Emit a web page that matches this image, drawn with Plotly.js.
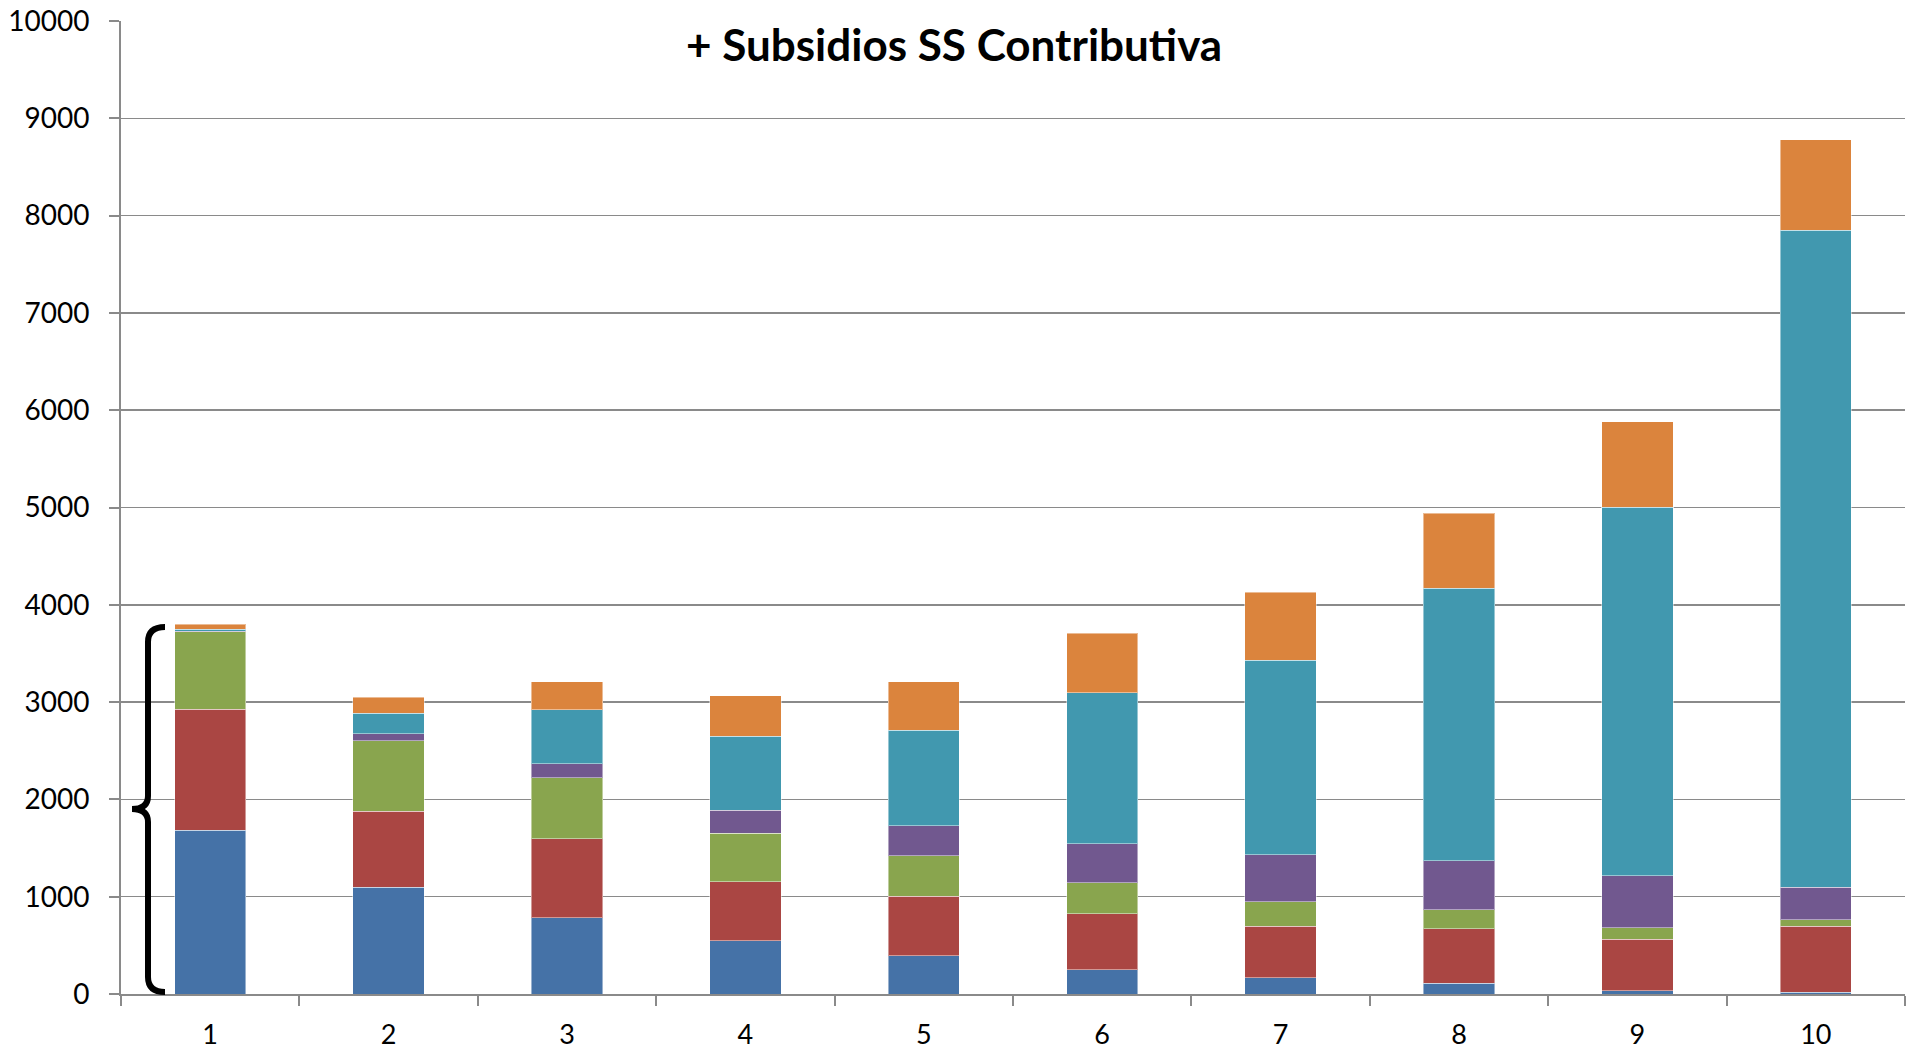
<!DOCTYPE html>
<html lang="es">
<head>
<meta charset="UTF-8">
<title>+ Subsidios SS Contributiva</title>
<script src="https://cdn.plot.ly/plotly-3.0.1.min.js"></script>
<style>
  html, body { margin: 0; padding: 0; background: #fff; }
  #chart { width: 1917px; height: 1050px; }
</style>
</head>
<body>
<div id="chart"></div>
<script>
// categories (deciles)
var deciles = ['1', '2', '3', '4', '5', '6', '7', '8', '9', '10'];

// stacked series, bottom to top
var serieAzul    = [1685, 1096, 783, 546, 395, 249, 166, 108, 35, 17];
var serieRoja    = [1240, 781, 811, 606, 610, 575, 530, 562, 530, 680];
var serieVerde   = [797, 725, 627, 500, 418, 318, 254, 198, 118, 68];
var serieMorada  = [5, 72, 147, 236, 305, 401, 483, 500, 530, 332];
var serieTurquesa = [22, 213, 551, 760, 982, 1551, 1996, 2800, 3788, 6754];
var serieNaranja = [49, 161, 291, 418, 500, 612, 698, 771, 880, 929];

var colores = ['#4572A7', '#AA4643', '#89A54E', '#71588F', '#4198AF', '#DB843D'];
var series = [serieAzul, serieRoja, serieVerde, serieMorada, serieTurquesa, serieNaranja];

var traces = series.map(function (vals, i) {
  return {
    type: 'bar',
    x: deciles,
    y: vals,
    marker: { color: colores[i], line: { color: 'rgba(255,255,255,0.45)', width: 1 } },
    hoverinfo: 'y'
  };
});

// plot area in pixels (from the reference)
var L = 121, R = 1905, T = 21, B = 994;
function px(x) { return (x - L) / (R - L); }
function py(y) { return (B - y) / (B - T); }

// curly brace next to the first bar
var brace = 'M ' + px(165) + ',' + py(627) +
  ' Q ' + px(148) + ',' + py(627) + ' ' + px(148) + ',' + py(642) +
  ' L ' + px(148) + ',' + py(796) +
  ' Q ' + px(148) + ',' + py(809) + ' ' + px(132) + ',' + py(809) +
  ' Q ' + px(148) + ',' + py(809) + ' ' + px(148) + ',' + py(822) +
  ' L ' + px(148) + ',' + py(977) +
  ' Q ' + px(148) + ',' + py(992) + ' ' + px(165) + ',' + py(992);

var gris = '#8a8a8a';

var layout = {
  width: 1917,
  height: 1050,
  margin: { l: L, r: 1917 - R, t: T, b: 1050 - B, pad: 0 },
  paper_bgcolor: '#ffffff',
  plot_bgcolor: '#ffffff',
  barmode: 'stack',
  bargap: 0.6,
  showlegend: false,
  font: { family: 'Lato, "Liberation Sans", sans-serif', color: '#000' },
  xaxis: {
    type: 'category',
    showline: true,
    linecolor: gris,
    linewidth: 2,
    ticks: 'outside',
    tickson: 'boundaries',
    ticklen: 10,
    tickwidth: 2,
    tickcolor: gris,
    showgrid: false,
    tickfont: { size: 27, color: '#000' },
    ticklabelstandoff: 16
  },
  yaxis: {
    range: [0, 10000],
    dtick: 1000,
    tickformat: 'd',
    showline: true,
    linecolor: gris,
    linewidth: 2,
    ticks: 'outside',
    ticklen: 10,
    tickwidth: 2,
    tickcolor: gris,
    showgrid: true,
    gridcolor: gris,
    gridwidth: 1.5,
    zeroline: false,
    tickfont: { size: 28, color: '#000' },
    ticklabelstandoff: 14
  },
  annotations: [{
    text: '<b>+ Subsidios SS Contributiva</b>',
    xref: 'paper', yref: 'paper',
    x: px(954), y: py(44),
    xanchor: 'center', yanchor: 'middle',
    showarrow: false,
    font: { size: 44, color: '#000', family: 'Lato, "Liberation Sans", sans-serif' }
  }],
  shapes: [{
    type: 'path',
    xref: 'paper', yref: 'paper',
    path: brace,
    line: { color: '#000', width: 6 }
  }]
};

Plotly.newPlot('chart', traces, layout, { displayModeBar: false, staticPlot: true });
</script>
</body>
</html>
